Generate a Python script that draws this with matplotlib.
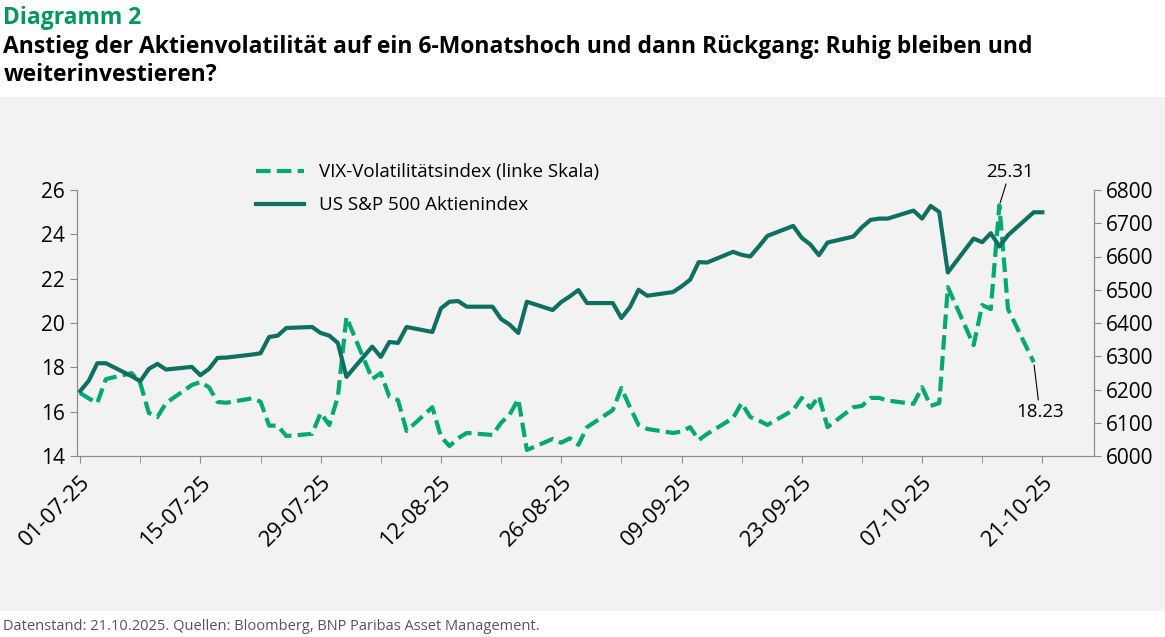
import matplotlib.pyplot as plt
import matplotlib.dates as mdates
import numpy as np
import pandas as pd

plt.rcParams['font.family'] = ['Open Sans', 'DejaVu Sans']

dates = pd.bdate_range("2025-07-01", "2025-10-21")

vix = [
    # Jul
    16.84, 16.6, 16.39, 17.47, 17.74, 17.29, 15.94, 15.76, 16.39, 17.2, 17.34, 17.1,
    16.44, 16.4, 16.6, 16.45, 15.37, 15.37, 14.9, 15.0, 15.94, 15.4, 16.67,
    # Aug
    20.27, 17.47, 17.74, 16.67, 16.52, 15.13, 16.2, 14.87, 14.45, 14.8, 15.04,
    14.95, 15.5, 15.87, 16.57, 14.27, 14.77, 14.6, 14.8, 14.5, 15.3,
    # Sep
    16.07, 17.07, 16.2, 15.4, 15.22, 15.04, 15.1, 15.3, 14.72, 15.0, 15.71, 16.39,
    15.76, 15.6, 15.4, 16.07, 16.62, 16.17, 16.7, 15.3, 16.2, 16.26,
    # Oct
    16.62, 16.62, 16.5, 16.35, 17.1, 16.26, 16.39, 21.62, 19.0, 20.81, 20.63,
    25.31, 20.63, 18.23, np.nan,
]
spx = [
    6195, 6226, 6279, 6279, 6240, 6225, 6262, 6277, 6260, 6268, 6243, 6262, 6295,
    6296, 6305, 6309, 6358, 6362, 6385, 6388, 6370, 6362, 6340,
    6238, 6329, 6298, 6343, 6340, 6388, 6373, 6444, 6464, 6466, 6449, 6449, 6412,
    6395, 6370, 6464, 6439, 6463, 6480, 6499, 6460,
    6460, 6415, 6448, 6500, 6482, 6493, 6510, 6530, 6583, 6582, 6614, 6605, 6600,
    6630, 6662, 6692, 6656, 6636, 6604, 6642, 6660, 6688,
    6710, 6714, 6714, 6738, 6714, 6752, 6734, 6552, 6654, 6643, 6670, 6630, 6664,
    6733, 6733,
]
df = pd.DataFrame({"vix": vix, "spx": spx}, index=dates)

green = "#00a971"
teal = "#10705f"
panel = "#f2f2f2"
spine = "#8c8c8c"

fig = plt.figure(figsize=(11.65, 6.37), dpi=100)
fig.patches.append(plt.Rectangle((0, 1 - 610 / 637), 1, (610 - 97) / 637,
                                 transform=fig.transFigure, color=panel, zorder=-1))

fig.text(0.003, 0.99, "Diagramm 2", color="#00965e", fontsize=16.5, fontweight="bold", va="top")
fig.text(0.003, 0.945, "Anstieg der Aktienvolatilität auf ein 6-Monatshoch und dann Rückgang: Ruhig bleiben und\nweiterinvestieren?",
         fontsize=16.5, fontweight="bold", va="top", linespacing=1.2)
fig.text(0.003, 0.005, "Datenstand: 21.10.2025. Quellen: Bloomberg, BNP Paribas Asset Management.",
         fontsize=10.5, color="#555555", va="bottom")

ax = fig.add_axes([0.066, 1 - 456 / 637, (1094 - 77) / 1165, 266 / 637])
ax.set_facecolor("none")
ax2 = ax.twinx()

l1, = ax.plot(df.index, df["vix"], color=green, lw=3, ls=(0, (3.5, 1.5)),
              label="VIX-Volatilitätsindex (linke Skala)")
l2, = ax2.plot(df.index, df["spx"], color=teal, lw=3, label="US S&P 500 Aktienindex")

ax.set_ylim(14, 26)
ax.set_yticks(range(14, 27, 2))
ax2.set_ylim(6000, 6800)
ax2.set_yticks(range(6000, 6801, 100))
ax.set_xlim(pd.Timestamp("2025-06-30 15:00"), pd.Timestamp("2025-10-27"))

major = pd.date_range("2025-07-01", "2025-10-21", freq="14D")
minor = pd.date_range("2025-07-01", "2025-10-27", freq="7D")
ax.set_xticks(major)
ax.set_xticks(minor, minor=True)
ax.xaxis.set_major_formatter(mdates.DateFormatter("%d-%m-%y"))
plt.setp(ax.get_xticklabels(), rotation=45, ha="right", rotation_mode="anchor")

for a in (ax, ax2):
    for s in a.spines.values():
        s.set_color(spine)
    a.spines["top"].set_visible(False)
    a.tick_params(colors=spine, labelcolor="black", labelsize=15, length=5)
ax.tick_params(axis="x", labelsize=16, pad=6)
ax.tick_params(axis="x", which="minor", length=5, colors=spine)

# annotations
peak = pd.Timestamp("2025-10-16")
ax.annotate("25.31", xy=(peak, 25.31), xytext=(peak + pd.Timedelta(days=1.2), 26.4),
            fontsize=13.5, ha="center", va="bottom",
            arrowprops=dict(arrowstyle="-", color="black", lw=0.8, shrinkA=0, shrinkB=2))
last = pd.Timestamp("2025-10-20")
ax.annotate("18.23", xy=(last, 18.23), xytext=(last + pd.Timedelta(days=0.7), 16.4),
            fontsize=13.5, ha="center", va="top",
            arrowprops=dict(arrowstyle="-", color="black", lw=0.8, shrinkA=0, shrinkB=2))

fig.legend(handles=[l1, l2], loc="upper left", bbox_to_anchor=(0.205, 0.77), frameon=False,
           fontsize=13.5, handlelength=2.6, labelspacing=0.8)

fig.savefig("out.png", dpi=100)
